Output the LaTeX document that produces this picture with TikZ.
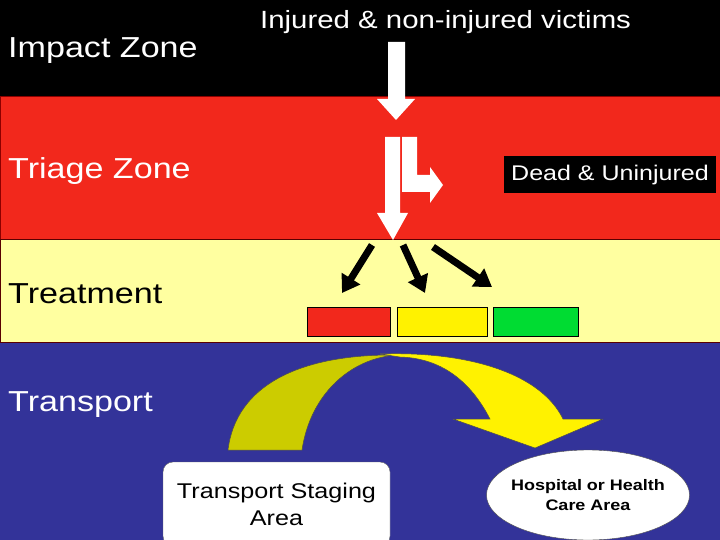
\documentclass[tikz,border=0pt]{standalone}
\usepackage{fontspec}
\setmainfont{Liberation Sans}[FakeStretch=1.18]
\usepackage{tikz}
\usetikzlibrary{positioning}
\usetikzlibrary{shapes}
\usetikzlibrary{arrows.meta}
\definecolor{zred}{RGB}{242,40,28}
\definecolor{zyel}{RGB}{255,255,160}
\definecolor{zblue}{RGB}{51,51,153}
\definecolor{zolive}{RGB}{204,204,0}
\definecolor{tgreen}{RGB}{0,220,50}

\begin{document}
\begin{tikzpicture}
[
x=1bp, y=-1bp,
node distance = 7bp,
zone/.style={anchor=base west, inner sep=0, text=white, font=\fontsize{29}{33}\selectfont},
tag/.style={rectangle, draw=black, line width=0.8bp, minimum width=83bp, minimum height=29bp, inner sep=0},
blk/.style={line width=7bp, -{Triangle[length=17bp,width=21bp]}},
wht/.style={fill=white},
crv/.style={draw=black!70, line width=0.5bp}
]
\useasboundingbox (0,0) rectangle (720,540);
\clip (0,0) rectangle (720,540);

% bands
\fill[black] (0,0) rectangle (720,96);
\draw[fill=zred, draw=red!55!black, line width=0.8bp] (0,96) rectangle (720,240);
\draw[fill=zyel, draw=red!35!black, line width=1bp] (0,240) rectangle (720,342);
\fill[zblue] (0,342.5) rectangle (720,540);

\node[zone] (z1) at (8,58) {Impact Zone};
\node[zone] (z2) at (8,179) {Triage Zone};
\node[zone, text=black] (z3) at (8,303) {Treatment};
\node[zone] (z4) at (8,411) {Transport};
\node[zone, font=\fontsize{25}{30}\selectfont] (vic) at (260,29) {Injured \& non-injured victims};

\node[fill=black, text=white, minimum width=212bp, minimum height=37bp, inner sep=0,
      font=\fontsize{21.3}{25}\selectfont] (dead) at (610,175) {Dead \& Uninjured};

% white block arrows
\fill[wht] (388,42) -- (405,42) -- (405,99) -- (415,99) -- (396,120) -- (377,99) -- (388,99) -- cycle;
\fill[wht] (385,137) -- (400,137) -- (400,213) -- (408,213) -- (393,240) -- (377,213) -- (385,213) -- cycle;
\fill[wht] (402,137) -- (417,137) -- (417,175) -- (430,175) -- (430,167) -- (443,185)
   -- (430,203) -- (430,192) -- (402,192) -- cycle;

% sorting arrows
\coordinate (s1) at (372,245);
\coordinate (e1) at (342,293);
\coordinate (s2) at (403,245);
\coordinate (e2) at (425,293);
\coordinate (s3) at (433,247);
\coordinate (e3) at (492,287);
\draw[blk] (s1) -- (e1);
\draw[blk] (s2) -- (e2);
\draw[blk] (s3) -- (e3);

\node[tag, fill=zred] (r1) at (348.5,321.5) {};
\node[tag, fill=yellow, minimum width=90bp, right=of r1] (r2) {};
\node[tag, fill=tgreen, minimum width=85bp, right=5bp of r2] (r3) {};

% curved transport arrow
\filldraw[crv, fill=zolive] (228,450) .. controls (236,385) and (300,354) .. (397,355)
   .. controls (350,358) and (310,395) .. (302,450) -- cycle;
\filldraw[crv, fill=yellow] (380,354) .. controls (465,351) and (540,372) .. (563,419)
   -- (603,419) -- (535,448) -- (453,419) -- (490,419)
   .. controls (470,380) and (440,358) .. (400,357) -- cycle;

\node[draw=black!60, fill=white, rounded corners=10bp, minimum width=227bp, minimum height=84bp,
      align=center, font=\fontsize{21.4}{27}\selectfont] (tsa) at (276.5,504) {Transport Staging\\Area};
\node[ellipse, draw=black!70, fill=white, minimum width=203bp, minimum height=90bp, inner xsep=-6bp, inner ysep=0,
      align=center, font=\bfseries\fontsize{15.3}{20}\selectfont] (hosp) at (588,495) {Hospital or Health\\Care Area};
\end{tikzpicture}
\end{document}
